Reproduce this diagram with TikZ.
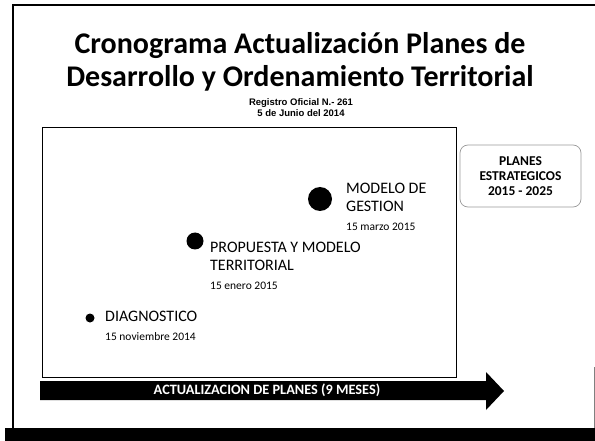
\documentclass[tikz,border=0pt]{standalone}
\usepackage{fontspec}
\setmainfont{Carlito}
\newfontfamily\arialf{Liberation Sans}
\begin{document}
\begin{tikzpicture}[x=1pt,y=-1pt,
  frameline/.style={line width=1.2pt},
  label/.style={anchor=base west,inner sep=0pt,font=\fontsize{16}{18}\selectfont,align=left},
  datelbl/.style={anchor=base west,inner sep=0pt,font=\fontsize{11.5}{13}\selectfont},
  dot/.style={circle,fill=black,inner sep=0pt}]
\useasboundingbox (0,0) rectangle (595,441);
% outer frame
\draw[frameline] (13,441) -- (13,5) -- (595,5);
\draw[line width=0.8pt,gray] (594,367) -- (594,428);
\fill (5,428) rectangle (595,441);
% title
\node[font=\fontsize{30}{33}\selectfont\bfseries,align=center] (title) at (300,62) {Cronograma Actualización Planes de\\Desarrollo y Ordenamiento Territorial};
\node[font=\arialf\bfseries\fontsize{9.5}{11}\selectfont,align=center] (reg) at (301,108) {Registro Oficial N.- 261\\5 de Junio del 2014};
% inner rectangle
\draw[line width=1pt] (42,128) rectangle (456,377);
% planes box
\node[draw=gray!80,line width=0.7pt,rounded corners=8pt,minimum width=121pt,minimum height=62pt,align=center,font=\fontsize{13.5}{15}\selectfont\bfseries] (planes) at (520.5,176) {PLANES\\ESTRATEGICOS\\2015 - 2025};
% milestones
\node[dot,minimum size=24pt] (d3) at (320,199) {};
\node[label] (t3) at (346,212) {MODELO DE\\GESTION};
\node[datelbl] (f3) at (346,230) {15 marzo 2015};
\node[dot,minimum size=17pt] (d2) at (195,241) {};
\node[label] (t2) at (210,270) {PROPUESTA Y MODELO\\TERRITORIAL};
\node[datelbl] (f2) at (210,289) {15 enero 2015};
\node[dot,minimum size=9pt] (d1) at (90,318) {};
\node[label] (t1) at (105,321) {DIAGNOSTICO};
\node[datelbl] (f1) at (105,340) {15 noviembre 2014};
% arrow
\fill (40,381) -- (486,381) -- (486,372) -- (504,391) -- (486,410) -- (486,400) -- (40,400) -- cycle;
\node[text=white,font=\fontsize{14.3}{16}\selectfont\bfseries] (arrowtxt) at (267,390) {ACTUALIZACION DE PLANES (9 MESES)};
\end{tikzpicture}
\end{document}
